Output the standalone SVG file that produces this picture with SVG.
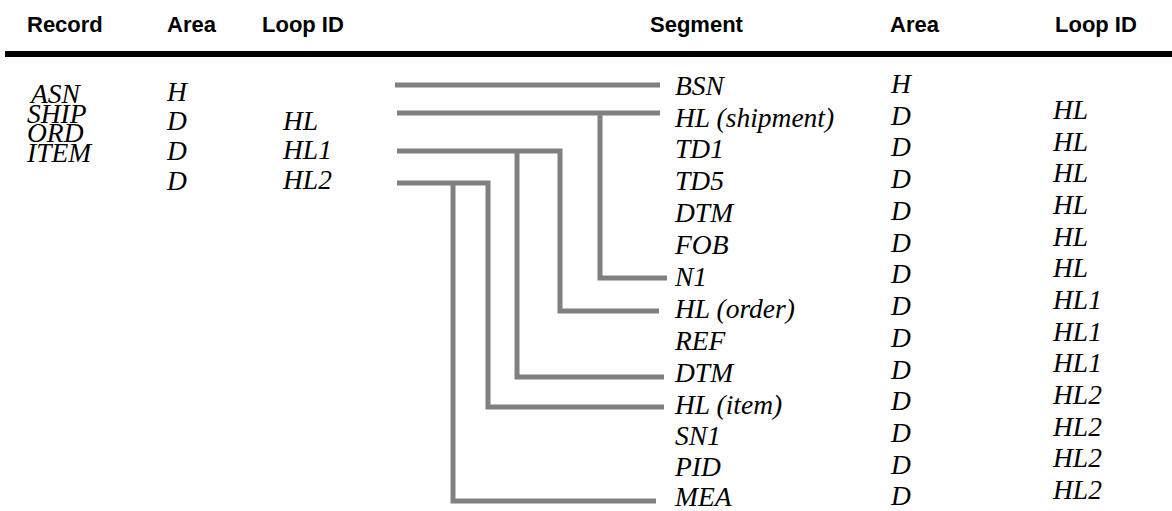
<svg xmlns="http://www.w3.org/2000/svg" width="1172" height="511" viewBox="0 0 1172 511">
<style>
.h{font-family:"Liberation Sans",Arial,sans-serif;font-weight:bold;font-size:22px;fill:#000}
.t{font-family:"Liberation Serif","Times New Roman",serif;font-style:italic;font-size:27.5px;fill:#000}
.c{fill:none;stroke:#808080;stroke-width:5;stroke-linejoin:miter;stroke-linecap:butt}
</style>
<rect width="1172" height="511" fill="#fff"/>
<g id="header">
<text class="h" x="27" y="32">Record</text>
<text class="h" x="167" y="32">Area</text>
<text class="h" x="262" y="32">Loop ID</text>
<text class="h" x="650" y="32">Segment</text>
<text class="h" x="890" y="32">Area</text>
<text class="h" x="1055" y="32">Loop ID</text>
<rect x="5" y="51" width="1167" height="6" fill="#000"/>
</g>
<g id="records">
<text class="t" x="31" y="103">ASN</text>
<text class="t" x="27" y="122.5">SHIP</text>
<text class="t" x="27" y="142">ORD</text>
<text class="t" x="27" y="161.5">ITEM</text>
</g>
<g id="record-areas">
<text class="t" x="167" y="101">H</text>
<text class="t" x="167" y="130">D</text>
<text class="t" x="167" y="160">D</text>
<text class="t" x="167" y="190">D</text>
</g>
<g id="record-loops">
<text class="t" x="283" y="130">HL</text>
<text class="t" x="283" y="159">HL1</text>
<text class="t" x="283" y="189">HL2</text>
</g>
<g id="connectors">
<path class="c" d="M395 85 H660"/>
<path class="c" d="M397 113 H660"/>
<path class="c" d="M600 113 V278 H667"/>
<path class="c" d="M397 151 H560 V311 H659"/>
<path class="c" d="M517 151 V377 H664"/>
<path class="c" d="M397 183 H488 V407 H664"/>
<path class="c" d="M453 183 V501 H656"/>
</g>
<g id="segments">
<text class="t" x="675" y="95">BSN</text>
<text class="t" x="675" y="127">HL (shipment)</text>
<text class="t" x="675" y="158">TD1</text>
<text class="t" x="675" y="190">TD5</text>
<text class="t" x="675" y="222">DTM</text>
<text class="t" x="675" y="254">FOB</text>
<text class="t" x="675" y="286">N1</text>
<text class="t" x="675" y="318">HL (order)</text>
<text class="t" x="675" y="350">REF</text>
<text class="t" x="675" y="382">DTM</text>
<text class="t" x="675" y="414">HL (item)</text>
<text class="t" x="675" y="445">SN1</text>
<text class="t" x="675" y="476">PID</text>
<text class="t" x="675" y="506">MEA</text>
</g>
<g id="segment-areas">
<text class="t" x="891" y="93">H</text>
<text class="t" x="891" y="125">D</text>
<text class="t" x="891" y="156">D</text>
<text class="t" x="891" y="188">D</text>
<text class="t" x="891" y="220">D</text>
<text class="t" x="891" y="252">D</text>
<text class="t" x="891" y="283">D</text>
<text class="t" x="891" y="315">D</text>
<text class="t" x="891" y="347">D</text>
<text class="t" x="891" y="379">D</text>
<text class="t" x="891" y="410">D</text>
<text class="t" x="891" y="442">D</text>
<text class="t" x="891" y="474">D</text>
<text class="t" x="891" y="505">D</text>
</g>
<g id="segment-loops">
<text class="t" x="1053" y="119">HL</text>
<text class="t" x="1053" y="151">HL</text>
<text class="t" x="1053" y="182">HL</text>
<text class="t" x="1053" y="214">HL</text>
<text class="t" x="1053" y="246">HL</text>
<text class="t" x="1053" y="277">HL</text>
<text class="t" x="1053" y="309">HL1</text>
<text class="t" x="1053" y="341">HL1</text>
<text class="t" x="1053" y="372">HL1</text>
<text class="t" x="1053" y="404">HL2</text>
<text class="t" x="1053" y="436">HL2</text>
<text class="t" x="1053" y="467">HL2</text>
<text class="t" x="1053" y="499">HL2</text>
</g>
</svg>
